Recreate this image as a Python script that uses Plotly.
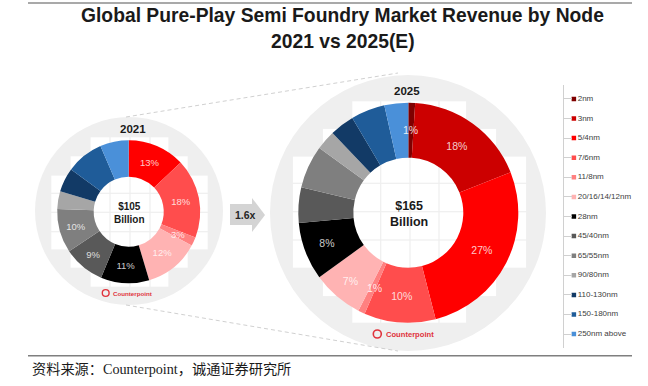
import plotly.graph_objects as go

W, H = 648, 386

# ---- data ----
nodes = ["2nm", "3nm", "5/4nm", "7/6nm", "11/8nm", "20/16/14/12nm", "28nm",
         "45/40nm", "65/55nm", "90/80nm", "110-130nm", "150-180nm", "250nm above"]
colors = ["#7F0000", "#CC0000", "#FF0000", "#FF4D4D", "#FF8080", "#FFB3B3", "#000000",
          "#595959", "#7F7F7F", "#A6A6A6", "#123A66", "#1F5C99", "#4A90D9"]
values_2021 = [0, 0, 13, 18, 2, 12.6, 11, 9.4, 10, 4, 5.5, 8.5, 6.5]
labels_2021 = ["", "", "13%", "18%", "", "12%", "11%", "9%", "10%", "", "", "", ""]
values_2025 = [1, 18, 27, 10.5, 1, 7.5, 8.5, 5.2, 6.3, 2.9, 3.6, 5, 3.5]
labels_2025 = ["", "18%", "27%", "10%", "", "7%", "8%", "", "", "", "", "", ""]
small_notes = [("3%", 178, 234, 9.5), ("1%", 410, 130, 10.5), ("1%", 374, 288, 10.5)]
totals = [("$105<br>Billion", 129, 213, 10), ("$165<br>Billion", 409, 214, 12.5)]
years = [("2021", 133, 128.5), ("2025", 407, 91)]
title_lines = [("Global Pure-Play Semi Foundry Market Revenue by Node", 15.5),
               ("2021 vs 2025(E)", 42)]


def px(x):
    return x / W


def py(y):
    return 1 - y / H


def rect(x0, y0, x1, y1, **kw):
    return dict(type="rect", xref="paper", yref="paper", x0=px(x0), x1=px(x1),
                y0=py(y0), y1=py(y1), layer="below", **kw)


def circ(cx, cy, r, **kw):
    return dict(type="circle", xref="paper", yref="paper", x0=px(cx - r), x1=px(cx + r),
                y0=py(cy + r), y1=py(cy - r), layer="below", **kw)


def line(x0, y0, x1, y1, **kw):
    return dict(type="line", xref="paper", yref="paper", x0=px(x0), x1=px(x1),
                y0=py(y0), y1=py(y1), layer="below", **kw)


def watermark(cx, cy, r, cols, rows):
    out = [circ(cx, cy, r, fillcolor="#EFEFEF", line_width=0)]
    spans = [(2, 5), (1, 6), (0, 7), (0, 7), (0, 7), (0, 7), (1, 6), (2, 5)]
    for i, (a, b) in enumerate(spans):
        for j in range(a, b + 1):
            out.append(rect(cols[j] + 0.6, rows[i] + 0.6, cols[j + 1] - 0.6, rows[i + 1] - 0.6,
                            fillcolor="white", line_width=0))
    return out


fig = go.Figure()


def donut(vals, txt, cx, cy, r, hole, size):
    fig.add_trace(go.Pie(
        values=vals, labels=nodes, text=txt, textinfo="text", sort=False, direction="clockwise",
        rotation=0, hole=hole, marker=dict(colors=colors, line=dict(width=0)),
        textposition="inside", insidetextorientation="horizontal",
        textfont=dict(family="Liberation Sans", size=size, color="rgba(255,255,255,0.8)"),
        domain=dict(x=[px(cx - r), px(cx + r)], y=[py(cy + r), py(cy - r)]),
        showlegend=False, automargin=False))


donut(values_2021, labels_2021, 128.7, 211.7, 71.5, 0.49, 9.5)
donut(values_2025, labels_2025, 408.3, 212.7, 110, 0.5, 10.5)

# legend drawn on a small hidden-scale subplot
ys = list(range(len(nodes)))
fig.add_trace(go.Scatter(
    x=[0] * len(nodes), y=ys, mode="markers+text", text=nodes, textposition="middle right",
    marker=dict(symbol="square", size=4.5, color=colors),
    textfont=dict(family="Liberation Sans", size=8, color="#404040"),
    showlegend=False, hoverinfo="skip"))

shapes = []
shapes += watermark(129, 211, 94,
                    [50.7, 70, 90, 110, 130, 150, 169, 188.3, 208.3],
                    [136.7, 155.7, 175, 193.3, 212.3, 231.7, 250, 268.3, 287.3])
shapes += watermark(408, 213, 138,
                    [292.3, 322.3, 351.7, 380.7, 410, 439, 466.7, 496.7, 526.7],
                    [100.7, 128.3, 156, 183.3, 211.7, 240, 268.3, 296.7, 323.3])
dash = dict(color="#C4C4C4", width=0.8, dash="4px,3px")
shapes += [
    line(126, 117, 398, 73, line=dash),
    line(126, 305, 398, 351, line=dash),
    rect(230, 204, 252, 225, fillcolor="#D4D4D4", line_width=0),
    dict(type="path", xref="paper", yref="paper", layer="below", fillcolor="#D4D4D4", line_width=0,
         path=f"M{px(252)},{py(198)} L{px(265)},{py(215)} L{px(252)},{py(232)} Z"),
    line(28, 355.7, 632, 355.7, line=dict(color="#7F7F7F", width=1.5)),
    line(28, 3, 632, 3, line=dict(color="#8C8C8C", width=1.5)),
    circ(105.7, 293, 3.4, fillcolor="rgba(0,0,0,0)", line=dict(color="#E0333C", width=1.4)),
    circ(377.3, 334, 4, fillcolor="rgba(0,0,0,0)", line=dict(color="#E0333C", width=1.6)),
]

annotations = []


def note(t, x, y, size, color="#000000", bold=False, family="Liberation Sans", anchor="center"):
    annotations.append(dict(
        text=f"<b>{t}</b>" if bold else t, x=px(x), y=py(y), xref="paper", yref="paper",
        showarrow=False, xanchor=anchor, yanchor="middle", align="center",
        font=dict(size=size, color=color, family=family)))


for t, y in title_lines:
    note(t, 342.5, y, 19.3, "#1A1A1A", True)
for t, x, y, s in totals:
    note(t, x, y, s, "#1A1A1A", True)
for t, x, y in years:
    note(t, x, y, 11.5, "#1A1A1A", True)
for t, x, y, s in small_notes:
    note(t, x, y, s, "rgba(255,255,255,0.85)")
note("1.6x", 245, 215, 10.5, "#262626", True)
note("Counterpoint", 132, 293, 6.2, "#E0333C", True)
note("Counterpoint", 410, 334, 7.6, "#E0333C", True)
note("资料来源：Counterpoint，诚通证券研究所", 30, 369, 14.2, "#1A1A1A", False,
     "Liberation Serif, Noto Sans CJK SC", "left")

fig.update_layout(
    width=W, height=H, margin=dict(l=0, r=0, t=0, b=0), paper_bgcolor="white",
    plot_bgcolor="rgba(0,0,0,0)", showlegend=False, shapes=shapes, annotations=annotations,
    xaxis=dict(domain=[563.5 / W, 1], range=[-10.5, 75], showgrid=False, zeroline=False,
               showticklabels=False, ticks="", showline=False, fixedrange=True),
    yaxis=dict(domain=[py(348), py(85)], range=[len(nodes) - 1 + 0.71, -0.71], showgrid=False,
               zeroline=False, showticklabels=False, tickmode="array", tickvals=ys, ticks="inside",
               ticklen=8, tickcolor="#D0D0D0", tickwidth=1, showline=True, linecolor="#D0D0D0",
               linewidth=1, fixedrange=True),
)

fig.write_html("out.html", config=dict(displayModeBar=False),
               post_script="document.body.style.margin='0';")
